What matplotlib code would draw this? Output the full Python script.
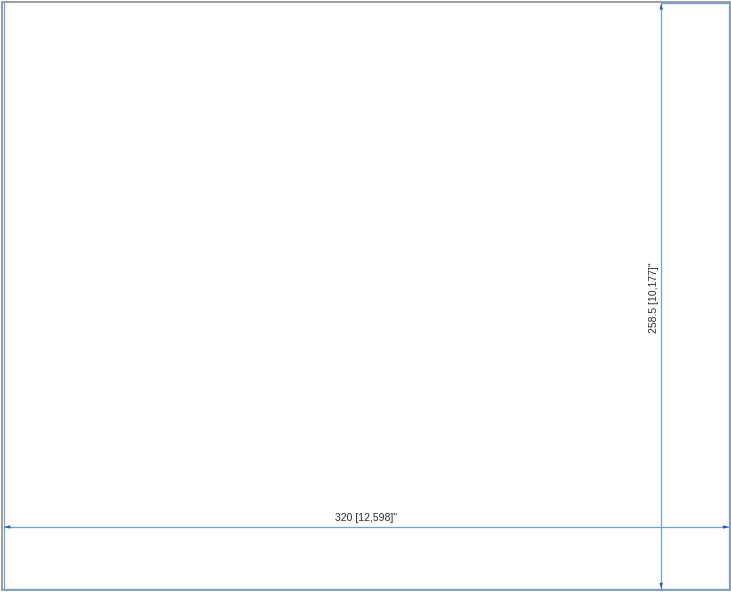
import matplotlib.pyplot as plt
from matplotlib.patches import Rectangle

# --- dados do desenho (mm) ---------------------
part_size = [320.0, 258.5]          # largura, altura
dim_labels = ["320 [12,598]\"", "258.5 [10,177]\""]
dim_offsets = [27.4, 290.0]         # posição das linhas de cota (y da horizontal, x da vertical)

LINE = "#6f9fe0"
HEAD = "#2b5aa0"
FRAME = "#8c8c8c"

W, H = part_size

fig = plt.figure(figsize=(7.31, 5.92), dpi=100)
ax = fig.add_axes([0, 0, 1, 1])
ax.set_xlim(-1.8, 320.8)
ax.set_ylim(-1.3, 260.0)
ax.axis("off")

# moldura cinza externa
ax.add_patch(Rectangle((0.003, 0.004), 0.995, 0.993, transform=ax.transAxes,
                       fill=False, ec=FRAME, lw=1.2))

# linhas de extensão
ax.plot([0, 0], [0, H], color=LINE, lw=0.9)
ax.plot([W, W], [0, H], color=LINE, lw=0.9)
ax.plot([0, W], [0, 0], color=LINE, lw=0.9)
ax.plot([dim_offsets[1], W], [H, H], color=LINE, lw=0.9)


def dim_line(p0, p1):
    ax.plot([p0[0], p1[0]], [p0[1], p1[1]], color=LINE, lw=0.9)
    for a, b in ((p0, p1), (p1, p0)):
        ax.annotate("", xy=a, xytext=b,
                    arrowprops=dict(arrowstyle="-|>,head_length=0.45,head_width=0.12",
                                    color=HEAD, lw=0.0, shrinkA=0, shrinkB=0))


# cota horizontal
y_dim = dim_offsets[0]
dim_line((0, y_dim), (W, y_dim))
ax.text(W / 2 - 0.3, y_dim + 1.6, dim_labels[0], ha="center", va="bottom",
        fontsize=7.5, family="Liberation Sans", color="#2a2a2a")

# cota vertical
x_dim = dim_offsets[1]
dim_line((x_dim, 0), (x_dim, H))
ax.text(x_dim - 0.9, H / 2 - 0.5, dim_labels[1], ha="right", va="center",
        rotation=90, fontsize=7.5, family="Liberation Sans", color="#2a2a2a")

fig.savefig("out.png", dpi=100)
